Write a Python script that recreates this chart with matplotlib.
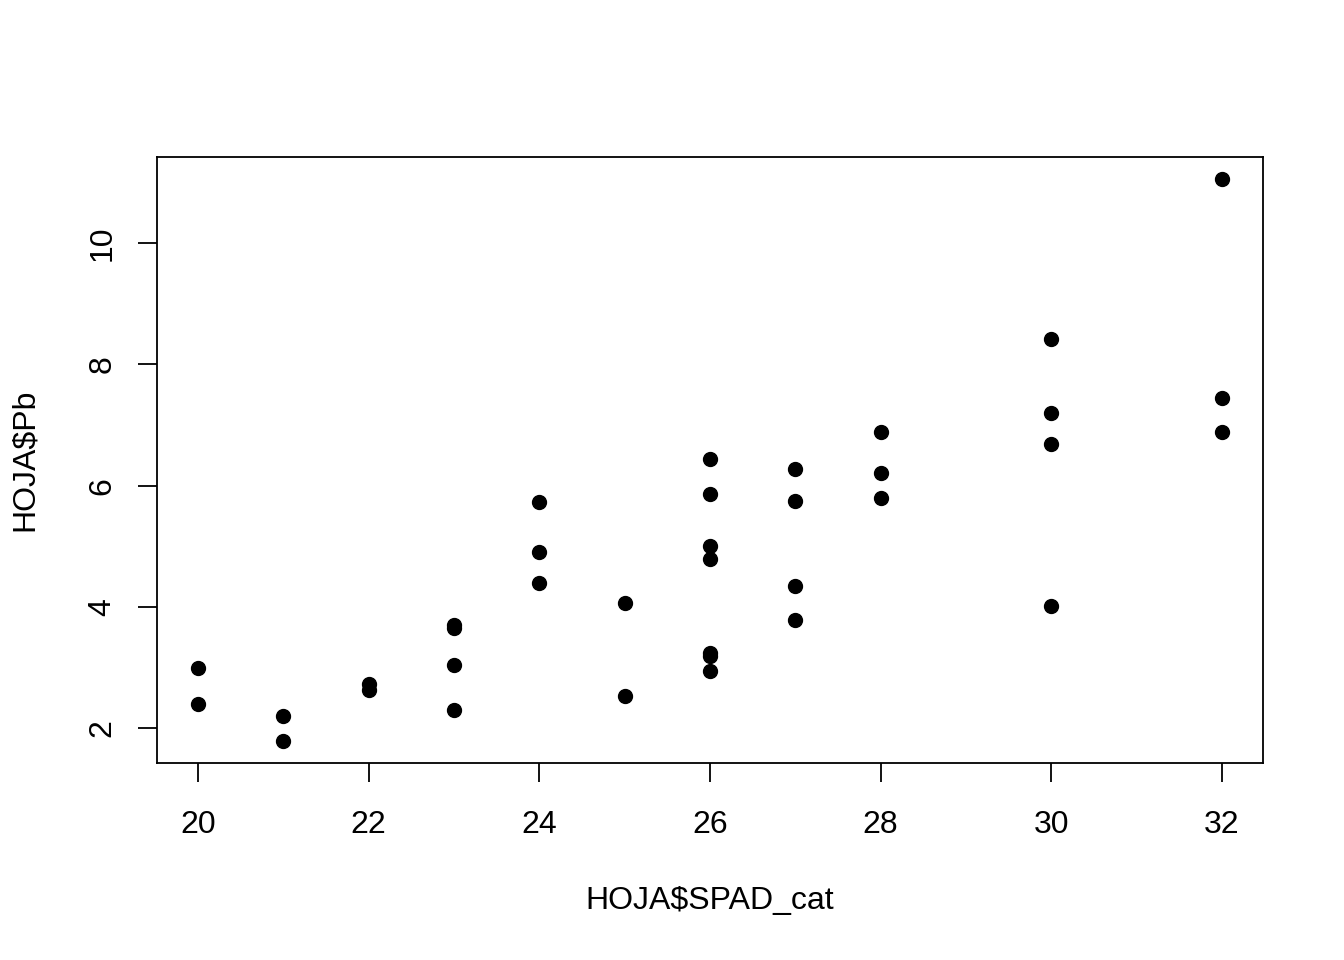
import matplotlib
matplotlib.use("Agg")
import matplotlib.pyplot as plt

plt.rcParams['font.family'] = ['Liberation Sans', 'DejaVu Sans']

# HOJA$SPAD_cat vs HOJA$Pb
spad_cat = [20, 20, 21, 21, 22, 22, 23, 23, 23, 23,
            24, 24, 24, 25, 25,
            26, 26, 26, 26, 26, 26, 26,
            27, 27, 27, 27, 28, 28, 28,
            30, 30, 30, 30, 32, 32, 32]
pb = [3.00, 2.41, 2.20, 1.80, 2.74, 2.63, 3.71, 3.65, 3.05, 2.31,
      5.74, 4.91, 4.39, 4.06, 2.53,
      6.44, 5.87, 5.00, 4.80, 3.25, 3.20, 2.94,
      6.28, 5.75, 4.35, 3.78, 6.89, 6.21, 5.80,
      8.42, 7.20, 6.69, 4.01, 11.05, 7.45, 6.89]
x_ticks = [20, 22, 24, 26, 28, 30, 32]
y_ticks = [2, 4, 6, 8, 10]

fig = plt.figure(figsize=(13.44, 9.6), dpi=100)
ax = fig.add_axes([157/1344, 1 - 763/960, (1263-157)/1344, (763-157)/960])

ax.plot(spad_cat, pb, 'o', color='black', markersize=10, linestyle='none')

# R style 4% padding
xr = max(spad_cat) - min(spad_cat)
yr = max(pb) - min(pb)
ax.set_xlim(min(spad_cat) - 0.04*xr, max(spad_cat) + 0.04*xr)
ax.set_ylim(min(pb) - 0.04*yr, max(pb) + 0.04*yr)

ax.set_xticks(x_ticks)
ax.set_yticks(y_ticks)
ax.set_yticklabels([str(v) for v in y_ticks], rotation=90, va='center')
ax.tick_params(direction='out', length=13.5, width=1.3, labelsize=23)
ax.tick_params(axis='x', pad=20)
ax.tick_params(axis='y', pad=15)
for s in ax.spines.values():
    s.set_linewidth(1.3)

ax.set_xlabel('HOJA$SPAD_cat', fontsize=23, va='center')
ax.set_ylabel('HOJA$Pb', fontsize=23, va='center')
ax.xaxis.set_label_coords(0.5, (763 - 901) / 606)
ax.yaxis.set_label_coords((25 - 157) / 1106, 0.5)

fig.savefig('out.png', dpi=100, facecolor='white')
